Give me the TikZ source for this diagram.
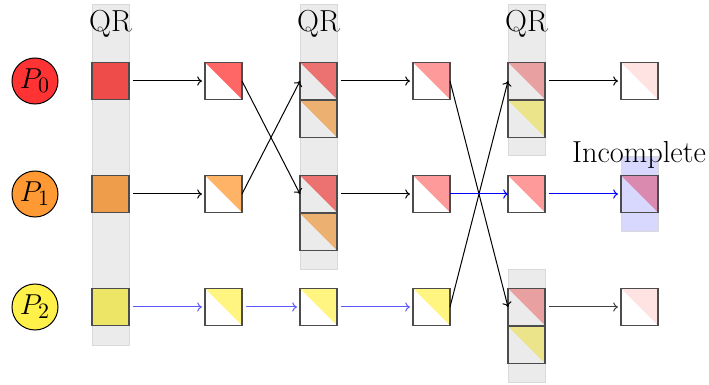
\documentclass[tikz,border=0pt]{standalone}
\usepackage{tikz}
\usetikzlibrary{arrows.meta}
\definecolor{pA}{HTML}{FF3333}
\definecolor{pB}{HTML}{FF9933}
\definecolor{pC}{HTML}{FFF04A}
\definecolor{sA}{HTML}{EE4B4B}
\definecolor{sB}{HTML}{EE9D4B}
\definecolor{sC}{HTML}{EDE565}
\definecolor{tA}{HTML}{FF6666}
\definecolor{tB}{HTML}{FFB366}
\definecolor{tC}{HTML}{FFF580}
\definecolor{gA}{HTML}{EC7272}
\definecolor{gB}{HTML}{ECB070}
\definecolor{lA}{HTML}{FF9A9A}
\definecolor{hA}{HTML}{E9A0A0}
\definecolor{hC}{HTML}{ECE48A}
\definecolor{pale}{HTML}{FFE3E3}
\definecolor{purp}{HTML}{D98AAE}
\definecolor{qrbg}{HTML}{EBEBEB}
\definecolor{incbg}{HTML}{D8D8FF}
\definecolor{lblue}{HTML}{5A5AFF}
\tikzset{
  txt/.style={font=\fontsize{15.2}{18}\selectfont, inner sep=0pt},
  proc/.style={circle, draw=black, line width=0.5pt, minimum size=23pt, inner sep=0pt, font=\fontsize{15.2}{18}\selectfont},
  blk/.style={draw=black!70, line width=0.7pt, minimum size=18.5pt, inner sep=0pt, outer sep=0pt},
  tri/.style={path picture={\fill[#1] (path picture bounding box.north west) -- (path picture bounding box.north east) -- (path picture bounding box.south east) -- cycle;}},
  band/.style={draw=black!15, line width=0.5pt, fill=qrbg},
  arr/.style={-{To[length=2.4pt,width=4.6pt]}, line width=0.5pt, black},
  barr/.style={arr, blue},
  lbarr/.style={arr, lblue},
  gap/.style={shorten <=2pt, shorten >=1.5pt}
}
\begin{document}
\begin{tikzpicture}[x=0.5pt, y=-0.5pt]
\useasboundingbox (0,0) rectangle (709,385);
% background bands
\draw[band] (92,5) rectangle (129,346);
\draw[band] (300,5) rectangle (337,270);
\draw[band] (508,5) rectangle (545,156);
\draw[band] (508,270) rectangle (545,383);
\draw[draw=black!15, line width=0.5pt, fill=incbg] (621,157) rectangle (658,232);
% labels
\node[txt] (qr0) at (110.5,24) {QR};
\node[txt] (qr2) at (318.5,24) {QR};
\node[txt] (qr4) at (526.5,24) {QR};
\node[txt] (inc) at (639,155) {Incomplete};
% processes
\node[proc, fill=pA] (p0) at (35,81) {$P_0$};
\node[proc, fill=pB] (p1) at (35,194) {$P_1$};
\node[proc, fill=pC] (p2) at (35,307) {$P_2$};
% column 0
\node[blk, fill=sA] (a0) at (110.5,81) {};
\node[blk, fill=sB] (a1) at (110.5,194) {};
\node[blk, fill=sC] (a2) at (110.5,307) {};
% column 1
\node[blk, fill=white, tri=tA] (b0) at (223.5,81) {};
\node[blk, fill=white, tri=tB] (b1) at (223.5,194) {};
\node[blk, fill=white, tri=tC] (b2) at (223.5,307) {};
% column 2
\node[blk, tri=gA] (c0) at (318.5,81) {};
\node[blk, tri=gB] (c0b) at (318.5,119) {};
\node[blk, tri=gA] (c1) at (318.5,194) {};
\node[blk, tri=gB] (c1b) at (318.5,232) {};
\node[blk, fill=white, tri=tC] (c2) at (318.5,307) {};
% column 3
\node[blk, fill=white, tri=lA] (d0) at (431.5,81) {};
\node[blk, fill=white, tri=lA] (d1) at (431.5,194) {};
\node[blk, fill=white, tri=tC] (d2) at (431.5,307) {};
% column 4
\node[blk, tri=hA] (e0) at (526.5,81) {};
\node[blk, tri=hC] (e0b) at (526.5,119) {};
\node[blk, fill=white, tri=lA] (e1) at (526.5,194) {};
\node[blk, tri=hA] (e2) at (526.5,307) {};
\node[blk, tri=hC] (e2b) at (526.5,345) {};
% column 5
\node[blk, fill=white, tri=pale] (f0) at (639.5,81) {};
\node[blk, tri=purp] (f1) at (639.5,194) {};
\node[blk, fill=white, tri=pale] (f2) at (639.5,307) {};
% connectors
\draw[arr, gap] (a0) -- (b0);
\draw[arr, gap] (a1) -- (b1);
\draw[lbarr, gap] (a2) -- (b2);
\draw[arr] (b0.east) -- (c1.west);
\draw[arr] (b1.east) -- (c0.west);
\draw[lbarr, gap] (b2) -- (c2);
\draw[arr, gap] (c0) -- (d0);
\draw[arr, gap] (c1) -- (d1);
\draw[lbarr, gap] (c2) -- (d2);
\draw[arr] (d0.east) -- (e2.west);
\draw[arr] (d2.east) -- (e0.west);
\draw[barr] (d1.east) -- (e1.west);
\draw[arr, gap] (e0) -- (f0);
\draw[barr, gap] (e1) -- (f1);
\draw[arr, black!75, gap] (e2) -- (f2);
\end{tikzpicture}
\end{document}
